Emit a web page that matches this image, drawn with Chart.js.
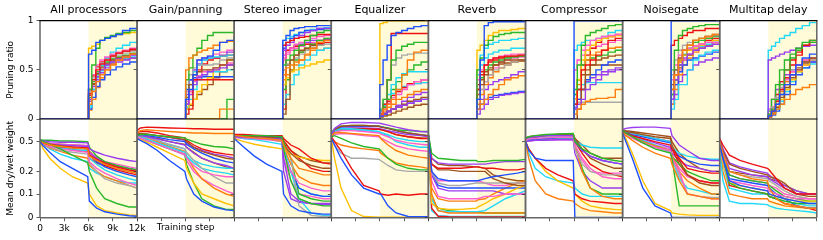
<!DOCTYPE html>
<html>
<head>
<meta charset="utf-8">
<script src="https://cdn.jsdelivr.net/npm/chart.js@4.4.1/dist/chart.umd.min.js"></script>
<style>
  html, body { margin: 0; padding: 0; background: #fff; }
  #wrap { position: relative; width: 823px; height: 240px; }
  #wrap canvas { position: absolute; left: 0; top: 0; }
</style>
</head>
<body>
<div id="wrap"></div>
<script>
// processors, one column each
const panelTitles = ['All processors', 'Gain/panning', 'Stereo imager', 'Equalizer',
                     'Reverb', 'Compressor', 'Noisegate', 'Multitap delay'];

// training steps at which the curves were read
const topSteps = [0, 6000, 6400, 6900, 7400, 8000, 8700, 9400, 10200, 11100, 12000];
const bottomSteps = [0, 400, 1200, 2500, 4000, 5900, 6100, 7000, 8000, 9500, 11000, 12000];

const xTicks = [0, 3000, 6000, 9000, 12000];
const pruneTicks = [0, 0.5, 1];
const weightTicks = [0, 0.1, 0.2, 0.5];
const prunePhase = [6000, 12000];   // shaded region

// ---- pruning ratio (top row), one row per run, values at topSteps ----
const pruneAll = [
  [0,.66,.7,.78,.8,.82,.84,.86,.9,.92,.94],
  [0,.15,.28,.38,.45,.5,.55,.6,.63,.66,.68],
  [0,.3,.55,.72,.8,.83,.85,.87,.88,.9,.91],
  [0,.26,.4,.5,.56,.6,.64,.67,.69,.71,.73],
  [0,.2,.33,.43,.5,.55,.58,.61,.63,.65,.66],
  [0,.24,.36,.46,.52,.56,.6,.62,.64,.66,.67],
  [0,.3,.45,.55,.6,.63,.66,.68,.7,.72,.74],
  [0,.28,.42,.52,.57,.6,.63,.65,.67,.69,.7],
  [0,.72,.74,.76,.8,.82,.84,.86,.87,.88,.89],
  [0,.12,.3,.45,.55,.62,.68,.72,.75,.78,.8],
  [0,.1,.22,.33,.4,.45,.5,.53,.56,.58,.6],
  [0,.09,.2,.32,.42,.5,.56,.6,.63,.66,.69],
  [0,.22,.38,.48,.54,.58,.61,.63,.65,.67,.68],
  [0,.3,.44,.53,.58,.62,.65,.67,.69,.7,.72],
  [0,.18,.3,.4,.47,.52,.56,.58,.6,.62,.63],
  [0,.14,.3,.42,.49,.54,.57,.6,.62,.63,.64],
  [0,.25,.38,.48,.53,.57,.6,.62,.64,.65,.66],
  [0,.2,.35,.45,.5,.55,.58,.6,.61,.62,.62]
];
const pruneGain = [
  [0,.2,.3,.45,.6,.62,.64,.7,.78,.8,.84],
  [0,.5,.62,.65,.68,.7,.72,.75,.78,.79,.8],
  [0,.4,.52,.65,.72,.8,.85,.88,.88,.88,.88],
  [0,.05,.1,.4,.4,.4,.4,.4,.4,.4,.4],
  [0,.15,.25,.35,.42,.45,.48,.5,.52,.55,.56],
  [0,.22,.35,.45,.48,.5,.5,.52,.55,.6,.62],
  [0,.18,.28,.38,.44,.48,.5,.52,.55,.57,.58],
  [0,.35,.45,.52,.55,.55,.55,.56,.6,.62,.64],
  [0,.1,.15,.2,.28,.35,.42,.5,.55,.6,.62],
  [0,.2,.35,.48,.55,.6,.62,.63,.64,.65,.66],
  [0,.3,.4,.42,.43,.43,.43,.43,.43,.43,.43],
  [0,0,0,0,0,0,0,0,.1,.1,.1],
  [0,0,0,0,0,0,0,0,0,.2,.2],
  [0,.15,.28,.4,.5,.56,.6,.62,.64,.65,.66],
  [0,.25,.4,.5,.56,.6,.62,.62,.65,.68,.7],
  [0,.12,.2,.3,.4,.45,.48,.48,.48,.5,.5],
  [0,.28,.4,.5,.6,.62,.64,.66,.68,.7,.72],
  [0,.1,.14,.2,.25,.3,.35,.42,.48,.55,.58]
];
const pruneStereo = [
  [0,.8,.85,.9,.92,.93,.94,.94,.95,.95,.95],
  [0,.45,.52,.55,.58,.6,.65,.72,.78,.8,.82],
  [0,.55,.6,.65,.7,.75,.8,.85,.88,.9,.9],
  [0,.75,.78,.8,.82,.83,.84,.85,.86,.86,.87],
  [0,.7,.75,.78,.82,.85,.88,.9,.92,.92,.93],
  [0,.05,.2,.6,.65,.7,.72,.75,.78,.8,.82],
  [0,.6,.68,.72,.76,.78,.8,.82,.84,.85,.86],
  [0,.5,.56,.6,.62,.66,.7,.73,.75,.76,.77],
  [0,.35,.42,.48,.5,.52,.54,.56,.58,.6,.6],
  [0,.15,.25,.35,.45,.55,.6,.65,.7,.72,.74],
  [0,.72,.78,.82,.85,.88,.9,.9,.91,.92,.92],
  [0,.4,.45,.5,.55,.6,.66,.7,.7,.72,.72],
  [0,.3,.4,.5,.6,.68,.72,.76,.8,.82,.84],
  [0,.1,.7,.72,.74,.75,.76,.76,.77,.78,.78],
  [0,.65,.7,.72,.74,.76,.78,.8,.8,.81,.82],
  [0,.8,.82,.84,.86,.88,.9,.91,.92,.93,.94],
  [0,.62,.66,.7,.72,.74,.76,.78,.8,.82,.84],
  [0,.5,.55,.6,.65,.68,.7,.72,.76,.8,.82]
];
const pruneEq = [
  [0,.35,.6,.75,.85,.88,.9,.92,.94,.95,.96],
  [0,.05,.1,.15,.2,.3,.45,.6,.68,.7,.7],
  [0,.1,.2,.4,.6,.7,.74,.76,.78,.78,.78],
  [0,.05,.15,.4,.87,.87,.87,.87,.87,.87,.87],
  [0,.04,.06,.08,.1,.12,.14,.16,.18,.2,.24],
  [0,.04,.06,.08,.1,.12,.15,.18,.2,.22,.25],
  [0,.06,.1,.15,.2,.25,.3,.35,.38,.4,.42],
  [0,.05,.2,.4,.55,.62,.65,.66,.67,.67,.68],
  [0,.97,.98,1,1,1,1,1,1,1,1],
  [0,.08,.15,.25,.35,.42,.46,.48,.48,.48,.5],
  [0,.03,.05,.08,.1,.12,.14,.16,.18,.2,.22],
  [0,.05,.08,.12,.15,.2,.22,.25,.28,.3,.32],
  [0,.06,.12,.2,.3,.38,.45,.5,.55,.58,.6],
  [0,.08,.12,.18,.24,.28,.32,.36,.38,.4,.42],
  [0,.03,.05,.07,.1,.14,.18,.22,.25,.27,.28],
  [0,.08,.14,.2,.26,.3,.33,.35,.36,.37,.38],
  [0,.05,.1,.16,.22,.28,.32,.35,.36,.37,.38],
  [0,.02,.03,.04,.06,.08,.1,.12,.14,.15,.16]
];
const pruneReverb = [
  [0,.2,.6,.95,.98,.99,.99,.99,.99,.99,.99],
  [0,.1,.15,.2,.25,.3,.35,.4,.42,.44,.45],
  [0,.5,.62,.75,.8,.84,.86,.87,.88,.88,.88],
  [0,.3,.45,.55,.6,.62,.63,.64,.64,.65,.65],
  [0,.05,.1,.15,.2,.22,.24,.25,.26,.27,.28],
  [0,.25,.35,.45,.5,.55,.58,.6,.6,.6,.6],
  [0,.4,.5,.55,.6,.62,.64,.65,.66,.66,.67],
  [0,.2,.3,.38,.45,.5,.52,.55,.58,.6,.6],
  [0,.7,.75,.8,.85,.88,.9,.9,.91,.92,.92],
  [0,.5,.65,.72,.76,.78,.8,.8,.81,.82,.82],
  [0,.1,.15,.2,.22,.24,.25,.26,.27,.28,.3],
  [0,.15,.25,.35,.42,.48,.52,.55,.58,.6,.62],
  [0,.3,.42,.5,.55,.58,.6,.62,.63,.64,.66],
  [0,.35,.48,.55,.58,.6,.62,.63,.64,.64,.64],
  [0,.1,.2,.3,.35,.38,.4,.42,.45,.48,.5],
  [0,.45,.55,.62,.66,.68,.7,.7,.72,.72,.72],
  [0,.2,.3,.38,.45,.52,.58,.6,.62,.63,.64],
  [0,.3,.4,.48,.52,.55,.56,.57,.58,.59,.6]
];
const pruneComp = [
  [0,1,1,1,1,1,1,1,1,1,1],
  [0,.05,.1,.15,.18,.2,.21,.21,.22,.3,.32],
  [0,.3,.55,.75,.85,.88,.9,.92,.95,.96,.96],
  [0,.15,.3,.5,.55,.6,.65,.7,.8,.82,.84],
  [0,.1,.15,.2,.3,.35,.4,.45,.48,.5,.52],
  [0,0,.1,.3,.45,.55,.6,.62,.64,.65,.66],
  [0,.5,.6,.7,.75,.8,.82,.84,.85,.86,.86],
  [0,.05,.17,.17,.17,.17,.17,.17,.17,.17,.17],
  [0,.2,.4,.6,.7,.75,.8,.82,.84,.85,.86],
  [0,.7,.75,.78,.8,.8,.82,.84,.88,.9,.9],
  [0,.1,.2,.3,.4,.45,.5,.55,.58,.6,.62],
  [0,.2,.35,.5,.6,.65,.68,.7,.72,.73,.74],
  [0,.25,.4,.55,.6,.62,.64,.65,.68,.7,.72],
  [0,.2,.4,.55,.65,.72,.78,.82,.84,.86,.9],
  [0,.12,.2,.3,.38,.42,.45,.48,.5,.52,.55],
  [0,.25,.3,.35,.37,.37,.37,.37,.37,.37,.37],
  [0,.5,.6,.65,.7,.72,.74,.76,.78,.8,.8],
  [0,.15,.3,.45,.5,.55,.55,.55,.55,.55,.55]
];
const pruneGate = [
  [0,1,1,1,1,1,1,1,1,1,1],
  [0,.3,.45,.6,.7,.75,.8,.82,.84,.86,.88],
  [0,.5,.7,.85,.9,.92,.94,.95,.96,.96,.97],
  [0,.75,.8,.82,.85,.88,.9,.9,.92,.92,.93],
  [0,.2,.4,.55,.62,.66,.7,.72,.74,.76,.78],
  [0,.35,.5,.62,.7,.75,.8,.82,.84,.86,.88],
  [0,.4,.55,.65,.7,.72,.74,.76,.78,.78,.8],
  [0,.45,.6,.7,.75,.78,.8,.82,.84,.85,.86],
  [0,.3,.45,.58,.65,.7,.72,.75,.78,.8,.82],
  [0,.1,.2,.35,.35,.5,.6,.65,.68,.7,.72],
  [0,.2,.35,.48,.55,.6,.62,.64,.66,.68,.7],
  [0,.15,.3,.45,.55,.62,.68,.72,.74,.76,.78],
  [0,.25,.4,.55,.65,.72,.78,.8,.82,.84,.85],
  [0,.3,.45,.58,.65,.7,.74,.76,.8,.82,.84],
  [0,.15,.25,.38,.45,.5,.55,.58,.6,.62,.64],
  [0,.3,.5,.6,.66,.7,.72,.74,.76,.78,.8],
  [0,.2,.35,.5,.6,.66,.7,.74,.78,.8,.82],
  [0,.25,.4,.52,.6,.65,.7,.72,.75,.78,.8]
];
const pruneDelay = [
  [0,.03,.08,.15,.25,.35,.45,.55,.62,.66,.7],
  [0,.02,.05,.1,.15,.2,.25,.3,.32,.35,.35],
  [0,.05,.1,.2,.35,.5,.62,.72,.78,.8,.82],
  [0,.03,.08,.18,.3,.42,.55,.65,.75,.8,.85],
  [0,.6,.62,.64,.66,.68,.7,.72,.74,.75,.76],
  [0,.02,.06,.12,.22,.32,.42,.5,.58,.62,.65],
  [0,.04,.1,.2,.3,.4,.48,.55,.6,.62,.65],
  [0,.05,.12,.22,.32,.42,.5,.55,.58,.6,.62],
  [0,.03,.06,.12,.2,.3,.4,.48,.55,.6,.64],
  [0,.7,.74,.78,.82,.85,.88,.92,.95,.98,1],
  [0,.02,.04,.08,.15,.25,.35,.45,.52,.58,.62],
  [0,.05,.1,.18,.28,.38,.48,.55,.6,.62,.65],
  [0,.08,.2,.35,.5,.6,.66,.7,.75,.78,.8],
  [0,.04,.12,.25,.38,.5,.6,.68,.74,.78,.8],
  [0,.1,.2,.3,.38,.45,.5,.55,.58,.6,.62],
  [0,.02,.05,.1,.18,.28,.38,.48,.52,.56,.6],
  [0,.05,.1,.2,.3,.38,.45,.5,.55,.58,.58],
  [0,.03,.08,.15,.25,.35,.45,.52,.56,.6,.6]
];

// ---- mean dry/wet weight (bottom row), values at bottomSteps ----
const weightAll = [
  [.5,.44,.36,.27,.22,.17,.07,.04,.025,.015,.008,.006],
  [.5,.48,.45,.43,.41,.4,.32,.28,.25,.22,.2,.19],
  [.52,.5,.46,.4,.33,.26,.2,.12,.08,.06,.045,.045],
  [.5,.48,.45,.43,.42,.41,.33,.29,.26,.23,.21,.2],
  [.52,.51,.5,.49,.49,.48,.4,.36,.33,.3,.28,.27],
  [.51,.49,.46,.44,.42,.4,.33,.28,.25,.22,.2,.19],
  [.5,.47,.43,.4,.38,.36,.27,.22,.19,.16,.14,.13],
  [.5,.47,.42,.38,.36,.34,.26,.2,.16,.14,.13,.12],
  [.5,.4,.3,.22,.17,.14,.1,.05,.03,.02,.012,.01],
  [.51,.48,.44,.41,.39,.38,.3,.25,.21,.18,.16,.15],
  [.5,.47,.44,.42,.41,.4,.33,.27,.23,.2,.18,.17],
  [.5,.46,.41,.37,.33,.3,.24,.2,.17,.15,.13,.12],
  [.53,.52,.52,.51,.51,.5,.42,.32,.27,.24,.22,.21],
  [.5,.47,.44,.41,.39,.37,.3,.26,.24,.21,.19,.18],
  [.5,.48,.46,.45,.44,.43,.35,.3,.26,.23,.22,.21],
  [.5,.46,.4,.34,.3,.27,.22,.19,.17,.15,.14,.14],
  [.51,.5,.48,.46,.45,.44,.36,.31,.27,.25,.23,.22],
  [.5,.49,.47,.46,.45,.44,.37,.3,.26,.23,.21,.2]
];
const weightGain = [
  [.55,.52,.47,.38,.28,.2,.16,.1,.07,.045,.033,.03],
  [.65,.7,.72,.7,.68,.66,.66,.65,.65,.64,.64,.64],
  [.6,.62,.62,.6,.58,.56,.54,.5,.46,.43,.42,.4],
  [.7,.76,.78,.77,.76,.75,.75,.74,.74,.73,.73,.73],
  [.6,.6,.58,.54,.5,.45,.42,.35,.3,.26,.24,.22],
  [.62,.64,.63,.6,.57,.53,.5,.42,.37,.33,.3,.29],
  [.58,.56,.52,.46,.4,.34,.3,.24,.2,.18,.17,.17],
  [.6,.6,.57,.52,.46,.4,.36,.28,.22,.17,.14,.14],
  [.55,.53,.49,.42,.35,.28,.22,.14,.1,.08,.06,.05],
  [.6,.58,.54,.48,.42,.36,.32,.26,.22,.2,.19,.18],
  [.62,.62,.6,.57,.53,.5,.46,.4,.35,.3,.27,.26],
  [.6,.59,.56,.5,.43,.37,.32,.22,.16,.12,.1,.09],
  [.58,.56,.52,.46,.4,.34,.25,.14,.08,.05,.035,.035],
  [.66,.68,.68,.65,.6,.56,.52,.45,.4,.36,.34,.33],
  [.62,.63,.62,.6,.57,.52,.48,.42,.38,.34,.32,.3],
  [.6,.59,.56,.51,.45,.4,.35,.28,.25,.23,.22,.22],
  [.57,.55,.52,.46,.4,.33,.28,.2,.16,.13,.11,.1],
  [.6,.6,.58,.55,.5,.46,.42,.36,.3,.26,.23,.22]
];
const weightStereo = [
  [.55,.5,.42,.32,.25,.2,.1,.05,.03,.02,.015,.015],
  [.6,.6,.58,.56,.55,.52,.45,.3,.22,.2,.18,.18],
  [.6,.6,.6,.6,.6,.58,.4,.15,.08,.06,.05,.05],
  [.62,.62,.62,.61,.6,.6,.55,.45,.4,.3,.26,.25],
  [.58,.58,.57,.56,.55,.54,.3,.1,.07,.06,.055,.055],
  [.58,.59,.59,.58,.57,.55,.45,.35,.28,.24,.22,.22],
  [.57,.57,.56,.55,.54,.52,.35,.2,.14,.12,.11,.11],
  [.6,.6,.59,.58,.56,.5,.45,.3,.05,.01,.005,.005],
  [.55,.53,.5,.46,.43,.4,.38,.34,.31,.29,.28,.28],
  [.58,.58,.57,.56,.55,.53,.4,.2,.08,.02,.01,.01],
  [.6,.6,.6,.59,.58,.57,.4,.2,.12,.1,.09,.09],
  [.58,.58,.57,.56,.55,.5,.42,.25,.17,.14,.13,.13],
  [.6,.61,.61,.6,.6,.59,.5,.3,.1,.08,.07,.07],
  [.6,.61,.61,.6,.6,.58,.52,.38,.3,.22,.2,.2],
  [.59,.59,.58,.57,.56,.55,.2,.08,.065,.06,.06,.06],
  [.58,.57,.55,.53,.5,.46,.35,.2,.12,.1,.09,.09],
  [.56,.56,.55,.54,.53,.5,.3,.15,.1,.09,.08,.08],
  [.6,.6,.6,.59,.58,.57,.5,.38,.32,.28,.26,.26]
];
const weightEq = [
  [.55,.45,.3,.18,.12,.1,.1,.05,.02,.005,.004,.004],
  [.6,.65,.66,.64,.62,.6,.55,.45,.38,.33,.31,.3],
  [.58,.6,.55,.48,.43,.4,.38,.3,.25,.22,.21,.21],
  [.58,.5,.38,.22,.13,.11,.1,.095,.1,.095,.1,.1],
  [.6,.75,.86,.9,.9,.88,.87,.83,.78,.72,.68,.67],
  [.62,.72,.8,.82,.82,.8,.78,.75,.7,.65,.62,.6],
  [.6,.66,.7,.7,.68,.65,.63,.58,.52,.48,.46,.45],
  [.55,.45,.35,.3,.3,.29,.28,.24,.21,.2,.2,.2],
  [.55,.3,.12,.03,.005,.002,.002,.002,.002,.002,.002,.002],
  [.62,.7,.74,.74,.72,.68,.66,.6,.5,.45,.42,.42],
  [.62,.72,.78,.8,.8,.8,.79,.75,.7,.65,.62,.6],
  [.55,.5,.45,.42,.4,.38,.35,.3,.26,.24,.23,.22],
  [.65,.74,.8,.82,.82,.8,.79,.76,.72,.7,.68,.68],
  [.62,.7,.74,.75,.74,.73,.72,.68,.62,.58,.55,.55],
  [.6,.7,.75,.76,.76,.75,.74,.7,.66,.62,.6,.58],
  [.6,.68,.72,.72,.7,.68,.66,.62,.56,.52,.5,.5],
  [.58,.62,.64,.63,.6,.58,.56,.5,.44,.4,.38,.37],
  [.6,.68,.72,.74,.74,.73,.72,.68,.62,.58,.56,.55]
];
const weightReverb = [
  [.6,.2,.16,.15,.15,.15,.15,.16,.17,.18,.19,.2],
  [.6,.1,.03,.02,.02,.02,.02,.02,.02,.02,.02,.02],
  [.62,.35,.3,.29,.28,.28,.27,.27,.28,.28,.28,.29],
  [.6,.25,.22,.22,.22,.23,.23,.22,.22,.21,.21,.22],
  [.58,.3,.26,.25,.25,.25,.25,.25,.26,.27,.27,.27],
  [.6,.25,.21,.21,.2,.2,.2,.2,.16,.14,.13,.13],
  [.55,.15,.09,.08,.08,.08,.08,.09,.09,.1,.1,.1],
  [.6,.2,.14,.13,.13,.14,.14,.14,.14,.14,.14,.14],
  [.55,.06,.04,.035,.035,.04,.045,.06,.08,.1,.12,.13],
  [.58,.08,.03,.025,.025,.025,.025,.03,.05,.08,.1,.11],
  [.62,.2,.13,.12,.12,.12,.12,.12,.12,.12,.12,.12],
  [.6,.12,.08,.07,.07,.07,.075,.08,.1,.12,.14,.15],
  [.6,.08,.04,.03,.025,.025,.025,.02,.02,.02,.02,.02],
  [.6,.04,.006,.004,.003,.003,.003,.003,.003,.003,.003,.003],
  [.6,.18,.12,.11,.11,.11,.11,.11,.11,.1,.1,.1],
  [.6,.03,.008,.006,.005,.005,.005,.005,.005,.005,.005,.005],
  [.6,.2,.15,.15,.15,.15,.15,.14,.13,.13,.14,.14],
  [.62,.3,.25,.24,.24,.23,.23,.22,.18,.16,.15,.15]
];
const weightComp = [
  [.5,.38,.3,.28,.28,.28,.001,.001,.001,.001,.001,.001],
  [.5,.3,.15,.1,.08,.07,.06,.04,.03,.025,.02,.02],
  [.55,.58,.6,.62,.63,.64,.5,.4,.35,.3,.28,.27],
  [.5,.4,.3,.22,.18,.15,.1,.08,.07,.065,.06,.06],
  [.55,.57,.58,.6,.6,.6,.5,.38,.32,.28,.26,.25],
  [.55,.57,.58,.6,.62,.62,.55,.4,.3,.25,.22,.22],
  [.52,.54,.55,.56,.57,.57,.45,.3,.22,.17,.16,.16],
  [.55,.56,.57,.58,.58,.58,.4,.25,.2,.18,.18,.18],
  [.5,.4,.3,.2,.15,.12,.1,.07,.05,.04,.035,.033],
  [.55,.56,.56,.57,.57,.57,.52,.45,.42,.41,.41,.41],
  [.52,.53,.54,.55,.56,.56,.5,.38,.32,.28,.26,.25],
  [.55,.56,.57,.58,.58,.58,.45,.2,.12,.09,.08,.08],
  [.53,.54,.55,.55,.56,.56,.45,.22,.12,.1,.1,.1],
  [.55,.55,.56,.56,.57,.57,.5,.35,.25,.2,.18,.17],
  [.5,.51,.52,.52,.53,.53,.35,.2,.15,.12,.12,.12],
  [.5,.35,.22,.17,.15,.14,.12,.1,.09,.09,.09,.09],
  [.5,.51,.52,.53,.53,.53,.4,.28,.2,.19,.19,.19],
  [.56,.58,.6,.61,.62,.62,.55,.45,.35,.3,.3,.3]
];
const weightGate = [
  [.65,.5,.3,.12,.05,.02,.001,.001,.001,.001,.001,.001],
  [.65,.6,.52,.42,.35,.3,.25,.15,.1,.09,.08,.08],
  [.7,.65,.58,.48,.4,.35,.3,.05,.05,.05,.05,.05],
  [.68,.65,.6,.55,.5,.45,.4,.3,.22,.2,.19,.19],
  [.72,.75,.77,.78,.78,.75,.6,.45,.38,.3,.28,.28],
  [.7,.68,.66,.62,.58,.55,.45,.28,.18,.14,.13,.13],
  [.65,.6,.55,.48,.42,.38,.3,.2,.1,.09,.08,.08],
  [.66,.62,.56,.48,.42,.36,.3,.18,.1,.09,.085,.085],
  [.65,.55,.35,.15,.06,.03,.02,.015,.012,.01,.01,.01],
  [.7,.68,.65,.6,.55,.5,.42,.35,.32,.3,.29,.29],
  [.68,.66,.62,.58,.53,.48,.4,.32,.28,.25,.24,.24],
  [.66,.62,.57,.5,.44,.38,.32,.2,.15,.12,.1,.1],
  [.68,.64,.58,.5,.43,.38,.32,.25,.2,.17,.15,.15],
  [.7,.68,.65,.6,.55,.5,.4,.25,.18,.15,.14,.14],
  [.67,.64,.6,.54,.48,.42,.35,.28,.24,.22,.2,.2],
  [.68,.65,.6,.52,.45,.38,.3,.16,.12,.11,.1,.1],
  [.66,.63,.58,.52,.45,.4,.33,.22,.17,.15,.14,.14],
  [.72,.7,.68,.65,.62,.58,.5,.35,.28,.22,.2,.2]
];
const weightDelay = [
  [.45,.3,.15,.13,.12,.11,.1,.09,.08,.07,.06,.06],
  [.5,.35,.2,.18,.16,.15,.12,.08,.06,.05,.04,.04],
  [.5,.3,.14,.12,.11,.1,.09,.08,.07,.06,.06,.06],
  [.55,.45,.33,.28,.25,.22,.21,.16,.12,.1,.1,.1],
  [.5,.35,.22,.2,.18,.17,.16,.14,.12,.1,.1,.1],
  [.5,.38,.25,.22,.2,.18,.17,.16,.14,.1,.09,.09],
  [.45,.28,.15,.14,.13,.12,.11,.1,.09,.08,.08,.08],
  [.5,.35,.2,.18,.17,.16,.15,.13,.11,.09,.08,.08],
  [.45,.25,.14,.13,.12,.11,.1,.09,.08,.07,.07,.07],
  [.4,.15,.07,.06,.06,.055,.05,.04,.035,.03,.025,.02],
  [.48,.3,.16,.15,.14,.13,.12,.1,.08,.05,.04,.04],
  [.4,.2,.1,.09,.08,.08,.07,.06,.05,.045,.04,.04],
  [.48,.3,.18,.16,.15,.14,.13,.11,.09,.08,.07,.07],
  [.5,.3,.13,.12,.11,.1,.09,.08,.06,.05,.04,.03],
  [.55,.4,.26,.23,.21,.19,.18,.15,.13,.11,.1,.1],
  [.45,.25,.12,.11,.1,.1,.09,.08,.07,.06,.05,.05],
  [.48,.32,.18,.16,.15,.14,.13,.12,.1,.09,.08,.08],
  [.5,.36,.2,.19,.18,.17,.16,.15,.13,.11,.1,.1]
];

const pruning = [pruneAll, pruneGain, pruneStereo, pruneEq, pruneReverb, pruneComp, pruneGate, pruneDelay];
const weights = [weightAll, weightGain, weightStereo, weightEq, weightReverb, weightComp, weightGate, weightDelay];

const palette = ['#1f50ff', '#ff7f0e', '#2ab82a', '#ee1111', '#9a3df0', '#a0521c', '#ff5fcf', '#a9a9a9', '#ffc000', '#22d8f8',
                 '#1f50ff', '#ff7f0e', '#2ab82a', '#ee1111', '#9a3df0', '#22d8f8', '#ff5fcf', '#a0521c'];

Chart.defaults.font.family = "'DejaVu Sans', sans-serif";
Chart.defaults.color = '#000';

// symlog axis: linear below 0.1, log10 above
const LIN_T = 0.1, LIN_W = 0.316;
function symlog(v) { return v <= LIN_T ? v / LIN_T * LIN_W : LIN_W + Math.log10(v / LIN_T); }
class SymlogScale extends Chart.LinearScale {
  getPixelForValue(v) { return this.getPixelForDecimal(symlog(v) / symlog(this.max)); }
  getValueForPixel(p) {
    const t = this.getDecimalForPixel(p) * symlog(this.max);
    return t <= LIN_W ? t / LIN_W * LIN_T : LIN_T * Math.pow(10, t - LIN_W);
  }
}
SymlogScale.id = 'symlog';
SymlogScale.defaults = Chart.LinearScale.defaults;
Chart.register(SymlogScale);

const framePlugin = {
  id: 'frame',
  beforeDatasetsDraw(chart) {
    const { ctx, chartArea: a, scales: { x } } = chart;
    const x0 = x.getPixelForValue(prunePhase[0]), x1 = x.getPixelForValue(prunePhase[1]);
    ctx.save();
    ctx.fillStyle = '#fffbd8';
    ctx.fillRect(x0, a.top, x1 - x0, a.bottom - a.top);
    ctx.restore();
  },
  afterDatasetsDraw(chart, args, opts) {
    const { ctx, chartArea: a } = chart;
    ctx.save();
    ctx.strokeStyle = '#666';
    ctx.lineWidth = 1.5;
    ctx.beginPath();
    ctx.moveTo(a.left, a.top); ctx.lineTo(a.left, a.bottom);
    ctx.moveTo(a.right, a.top); ctx.lineTo(a.right, a.bottom);
    if (opts.bottom) { ctx.moveTo(a.left, a.bottom); ctx.lineTo(a.right, a.bottom); }
    ctx.stroke();
    ctx.strokeStyle = '#000';
    ctx.lineWidth = 1.2;
    ctx.beginPath();
    ctx.moveTo(a.left - 0.7, a.top); ctx.lineTo(a.right + 0.7, a.top);
    ctx.stroke();
    ctx.restore();
  }
};

const wrap = document.getElementById('wrap');
const PANEL_W = 97.1, PLOT_L = 40;

function makeChart(col, row) {
  const canvas = document.createElement('canvas');
  canvas.width = 823;
  canvas.height = 240;
  wrap.appendChild(canvas);
  const isTop = row === 0;
  const left = PLOT_L + col * PANEL_W, right = left + PANEL_W;
  const series = isTop ? pruning[col] : weights[col];
  const steps = isTop ? topSteps : bottomSteps;
  const tickGrid = { drawOnChartArea: false, drawTicks: true, tickLength: 3.5, tickColor: '#333', tickWidth: 0.8 };

  new Chart(canvas, {
    type: 'line',
    data: {
      datasets: series.map((vals, i) => ({
        data: vals.map((v, j) => ({ x: steps[j], y: v })),
        borderColor: palette[i],
        borderWidth: 1.4,
        pointRadius: 0,
        stepped: isTop,
        tension: 0,
        fill: false
      }))
    },
    options: {
      responsive: false,
      animation: false,
      devicePixelRatio: 1,
      layout: { padding: { left: left - PLOT_L, right: 823 - right, top: isTop ? 0 : 119, bottom: isTop ? 121 : 0 } },
      plugins: {
        legend: { display: false },
        tooltip: { enabled: false },
        title: {
          display: isTop, text: panelTitles[col], fullSize: false,
          font: { size: 11, weight: 'normal' }, color: '#000', padding: { top: 4, bottom: 3.5 }
        },
        frame: { bottom: !isTop }
      },
      scales: {
        x: {
          type: 'linear', min: 0, max: 12000, display: !isTop,
          afterBuildTicks: a => { a.ticks = xTicks.map(v => ({ value: v })); },
          afterFit: a => { a.height = isTop ? 0 : 22.3; },
          grid: tickGrid,
          border: { display: false },
          ticks: {
            display: col === 0, font: { size: 9 }, color: '#000', padding: 2, maxRotation: 0, autoSkip: false,
            callback: v => v === 0 ? '0' : (v / 1000) + 'k'
          },
          title: { display: col === 1, text: 'Training step', font: { size: 9 }, color: '#000', padding: { top: 0, bottom: 7.1 } }
        },
        y: {
          type: isTop ? 'linear' : 'symlog', min: 0, max: 1,
          afterBuildTicks: a => { a.ticks = (isTop ? pruneTicks : weightTicks).map(v => ({ value: v })); },
          afterFit: a => { a.width = 40; },
          grid: tickGrid,
          border: { display: false },
          ticks: { display: col === 0, font: { size: 9 }, color: '#000', padding: 3, callback: v => String(v) },
          title: {
            display: col === 0, text: isTop ? 'Pruning ratio' : 'Mean dry/wet weight',
            font: { size: 9 }, color: '#000', padding: { top: 5, bottom: 0 }
          }
        }
      }
    },
    plugins: [framePlugin]
  });
}

for (let row = 0; row < 2; row++) {
  for (let col = 0; col < 8; col++) makeChart(col, row);
}
</script>
</body>
</html>
